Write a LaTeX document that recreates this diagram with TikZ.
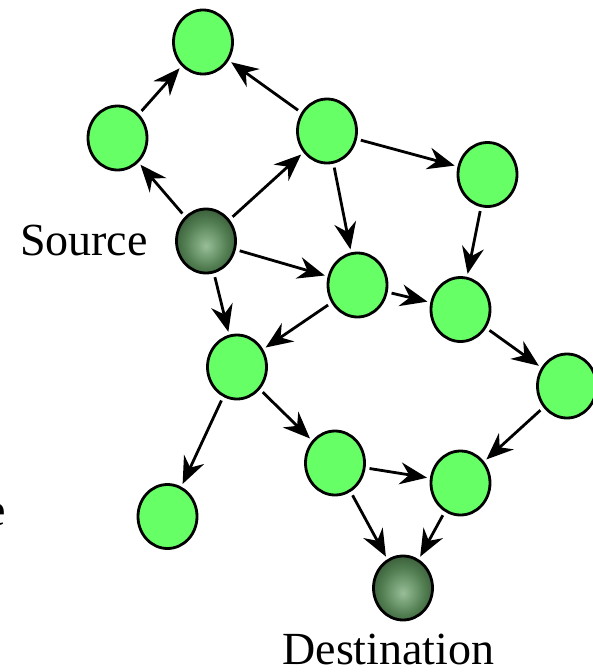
\documentclass[tikz,border=0pt]{standalone}
\usepackage{fontspec}
\setmainfont{Liberation Serif}
\usetikzlibrary{arrows.meta,shapes.geometric}

\definecolor{peergreen}{HTML}{66FF66}
\definecolor{balllight}{HTML}{98BE98}
\definecolor{ballmid}{HTML}{527E52}
\definecolor{balldark}{HTML}{2A482A}
\definecolor{ballrim}{HTML}{0C1C0C}
\pgfdeclareradialshading{ballfill}{\pgfpoint{0bp}{-4bp}}{color(0bp)=(balllight); color(18bp)=(ballmid); color(34bp)=(balldark); color(46bp)=(ballrim); color(50bp)=(ballrim)}

\tikzstyle{peer}=[ellipse,draw,line width=2.8pt,fill=peergreen,minimum width=59pt,minimum height=64pt,inner sep=0pt]
\tikzstyle{endpeer}=[peer,shading=ballfill]
\tikzstyle{hop}=[-{Stealth[length=27pt,width=22pt,inset=9pt]},line width=2.8pt,shorten <=4pt,shorten >=3pt]
\tikzstyle{lbl}=[font=\fontsize{46}{50}\selectfont,inner sep=0pt]

\begin{document}
\begin{tikzpicture}[x=1pt,y=-1pt]
\useasboundingbox (0,0) rectangle (592,672);
\node[peer] (p0) at (203,42) {};
\node[peer] (p1) at (117.5,138) {};
\node[peer] (p2) at (327,131) {};
\node[peer] (p3) at (487.5,174.5) {};
\node[endpeer] (src) at (206,241) {};
\node[peer] (p4) at (357.5,285) {};
\node[peer] (p5) at (460.5,309.5) {};
\node[peer] (p6) at (237,367) {};
\node[peer] (p7) at (567,386) {};
\node[peer] (p8) at (335,463) {};
\node[peer] (p9) at (460.5,483) {};
\node[peer] (p10) at (167.5,516.5) {};
\node[endpeer] (dst) at (403,588) {};
\node[lbl,anchor=base east] (srclbl) at (148,255) {Source};
\node[lbl,anchor=base] (dstlbl) at (388.5,664) {Destination};
\node[lbl,anchor=base east] (cut) at (6,525) {e};
% hops
\draw[hop] (p1) -- (p0);
\draw[hop] (p2) -- (p0);
\draw[hop] (src) -- (p1);
\draw[hop] (src) -- (p2);
\draw[hop] (p2) -- (p3);
\draw[hop] (p2) -- (p4);
\draw[hop] (p3) -- (p5);
\draw[hop] (src) -- (p4);
\draw[hop] (src) -- (p6);
\draw[hop] (p4) -- (p5);
\draw[hop] (p4) -- (p6);
\draw[hop] (p5) -- (p7);
\draw[hop] (p6) -- (p10);
\draw[hop] (p6) -- (p8);
\draw[hop] (p7) -- (p9);
\draw[hop] (p8) -- (p9);
\draw[hop] (p8) -- (dst);
\draw[hop] (p9) -- (dst);
\end{tikzpicture}
\end{document}
